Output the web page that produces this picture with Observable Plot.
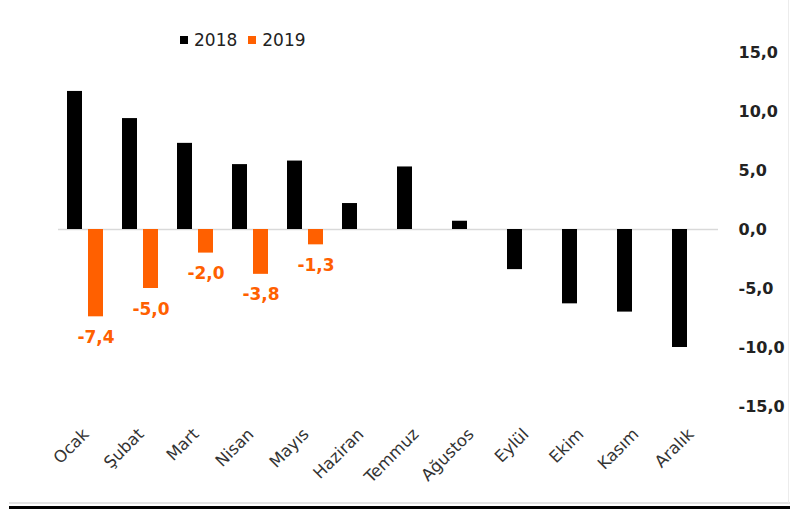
<!DOCTYPE html>
<html>
<head>
<meta charset="utf-8">
<script src="https://cdn.jsdelivr.net/npm/d3@7"></script>
<script src="https://cdn.jsdelivr.net/npm/@observablehq/plot@0.6"></script>
<style>
  html, body { margin: 0; padding: 0; background: #fff; }
  #wrap { position: relative; width: 790px; height: 509px; overflow: hidden; background: #fff; font-family: "DejaVu Sans", sans-serif; }
  #legend { position: absolute; left: 180px; top: 30px; display: flex; align-items: center; font-size: 17px; color: #222; }
  #legend .sw { width: 8px; height: 8px; display: inline-block; margin-right: 6px; }
  #legend .item { display: flex; align-items: center; margin-right: 11px; }
  #gray { position: absolute; left: 9px; top: 502px; width: 781px; height: 2px; background: #e3e3e3; }
  #black { position: absolute; left: 9px; top: 506px; width: 781px; height: 3px; background: #000; }
  #rightline { position: absolute; left: 788px; top: 0; width: 1px; height: 503px; background: #ececec; }
</style>
</head>
<body>
<div id="wrap">
  <div id="chart"></div>
  <div id="legend"></div>
  <div id="gray"></div>
  <div id="black"></div>
  <div id="rightline"></div>
</div>
<script>
const months = ["Ocak","Şubat","Mart","Nisan","Mayıs","Haziran","Temmuz","Ağustos","Eylül","Ekim","Kasım","Aralık"];
const years = ["2018","2019"];
const colors = ["#000000","#ff6000"];
const v2018 = [11.7, 9.4, 7.3, 5.5, 5.8, 2.2, 5.3, 0.7, -3.4, -6.3, -7.0, -10.0];
const v2019 = [-7.4, -5.0, -2.0, -3.8, -1.3];
const yTicks = [-15, -10, -5, 0, 5, 10, 15];

const fmt = d => d.toFixed(1).replace(".", ",");

const data = [];
months.forEach((m, i) => {
  data.push({month: m, year: "2018", value: v2018[i]});
  if (i < v2019.length) data.push({month: m, year: "2019", value: v2019[i]});
});

const chart = Plot.plot({
  width: 790,
  height: 502,
  marginTop: 52,
  marginBottom: 96,
  marginLeft: 55,
  marginRight: 70,
  style: {fontFamily: "DejaVu Sans, sans-serif", background: "transparent", overflow: "visible"},
  fx: {domain: months, padding: 0, axis: null, label: null},
  x: {domain: years, axis: null, paddingInner: 0.279, paddingOuter: 0.428},
  y: {domain: [-15, 15], axis: null},
  color: {domain: years, range: colors},
  marks: [
    Plot.ruleY([0], {stroke: "#d9d9d9", strokeWidth: 1.5}),
    Plot.barY(data, {fx: "month", x: "year", y: "value", fill: "year"}),
    Plot.text(data.filter(d => d.year === "2019"), {
      fx: "month", x: "year", y: "value", text: d => fmt(d.value),
      lineAnchor: "top", dy: 14, fill: "#ff6000", fontWeight: "bold", fontSize: 17
    }),
    Plot.axisY({anchor: "right", ticks: yTicks, tickSize: 0, tickPadding: 20, tickFormat: fmt,
      fontSize: 16, fontWeight: "bold", fill: "#222", label: null}),
    Plot.axisFx({anchor: "bottom", tickRotate: -45, tickSize: 0, tickPadding: 25,
      fontSize: 16.5, fill: "#333", label: null})
  ]
});
document.getElementById("chart").appendChild(chart);

const legend = document.getElementById("legend");
years.forEach((y, i) => {
  const item = document.createElement("span");
  item.className = "item";
  const sw = document.createElement("span");
  sw.className = "sw";
  sw.style.background = colors[i];
  item.appendChild(sw);
  item.appendChild(document.createTextNode(y));
  legend.appendChild(item);
});
</script>
</body>
</html>
